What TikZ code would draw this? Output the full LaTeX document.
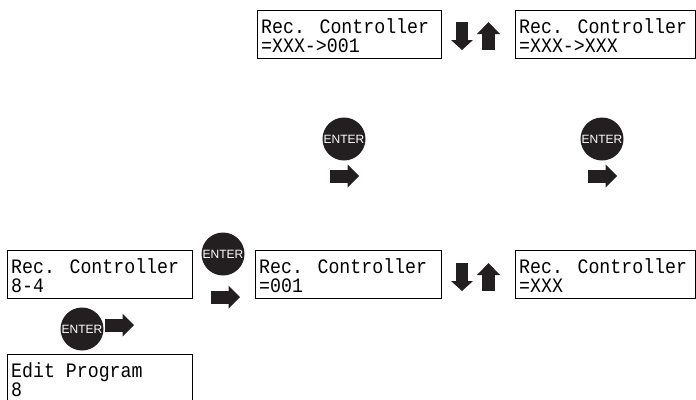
\documentclass[tikz,border=0pt]{standalone}
\usepackage{fontspec}
\usetikzlibrary{calc}
\newfontfamily\lcd[FakeStretch=0.89]{Liberation Mono}
\newfontfamily\btn{Liberation Sans}
\definecolor{dk}{HTML}{231F20}
\tikzset{
  lcdbox/.style={draw=black, line width=1.3pt, fill=white, rectangle, inner sep=0pt, anchor=north west, minimum width=184pt, minimum height=48pt},
  lcdtext/.style={anchor=base west, inner sep=0pt, font=\lcd\fontsize{20.5}{20.5}\selectfont},
  enterbtn/.style={circle, fill=dk, minimum size=43pt, inner sep=0pt, text=white, font=\btn\fontsize{12}{12}\selectfont},
  rarr/.pic={\fill[dk] (0,-6.5) rectangle (18,6.5); \fill[dk] (17.5,-11.5) -- (29,0) -- (17.5,11.5) -- cycle;},
  darr/.pic={\fill[dk] (-6,0) rectangle (6,18.5); \fill[dk] (-11,18) -- (11,18) -- (0,28) -- cycle;},
  uarr/.pic={\fill[dk] (-11.5,12) -- (0,0) -- (11.5,12) -- cycle; \fill[dk] (-6.5,11.5) rectangle (6.5,28);}
}
\begin{document}
\begin{tikzpicture}[x=1pt,y=-1pt]
\useasboundingbox (0,0) rectangle (696,399);
\clip (0,0) rectangle (696,399);
% top row
\node[lcdbox] (b1) at (257,10) {};
\node[lcdtext] (b1a) at ($(b1.north west)+(4,23)$) {Rec. Controller};
\node[lcdtext] (b1b) at ($(b1.north west)+(4,42)$) {=XXX->001};
\node[lcdbox, minimum width=180pt] (b2) at (515,10) {};
\node[lcdtext] (b2a) at ($(b2.north west)+(4,23)$) {Rec. Controller};
\node[lcdtext] (b2b) at ($(b2.north west)+(4,42)$) {=XXX->XXX};
\pic at (462,22) {darr};
\pic at (488.5,22) {uarr};
% middle ENTER buttons
\node[enterbtn] (e1) at (344,139) {ENTER};
\pic at (330,176) {rarr};
\node[enterbtn] (e2) at (602,139) {ENTER};
\pic at (588,176) {rarr};
% bottom row
\node[lcdbox, minimum width=185pt] (b3) at (7,250) {};
\node[lcdtext] (b3a) at ($(b3.north west)+(4,23)$) {Rec. Controller};
\node[lcdtext] (b3b) at ($(b3.north west)+(4,42)$) {8-4};
\node[enterbtn] (e3) at (223,254) {ENTER};
\pic at (211,297) {rarr};
\node[lcdbox, minimum width=186pt] (b4) at (255,250) {};
\node[lcdtext] (b4a) at ($(b4.north west)+(4,23)$) {Rec. Controller};
\node[lcdtext] (b4b) at ($(b4.north west)+(4,42)$) {=001};
\pic at (462,263) {darr};
\pic at (488.5,263) {uarr};
\node[lcdbox, minimum width=180pt] (b5) at (515,250) {};
\node[lcdtext] (b5a) at ($(b5.north west)+(4,23)$) {Rec. Controller};
\node[lcdtext] (b5b) at ($(b5.north west)+(4,42)$) {=XXX};
\node[enterbtn] (e4) at (82,329) {ENTER};
\pic at (105,325) {rarr};
\node[lcdbox, minimum width=185pt, minimum height=70pt] (b6) at (7,354) {};
\node[lcdtext] (b6a) at ($(b6.north west)+(4,23)$) {Edit Program};
\node[lcdtext] (b6b) at ($(b6.north west)+(4,42)$) {8};
\end{tikzpicture}
\end{document}
